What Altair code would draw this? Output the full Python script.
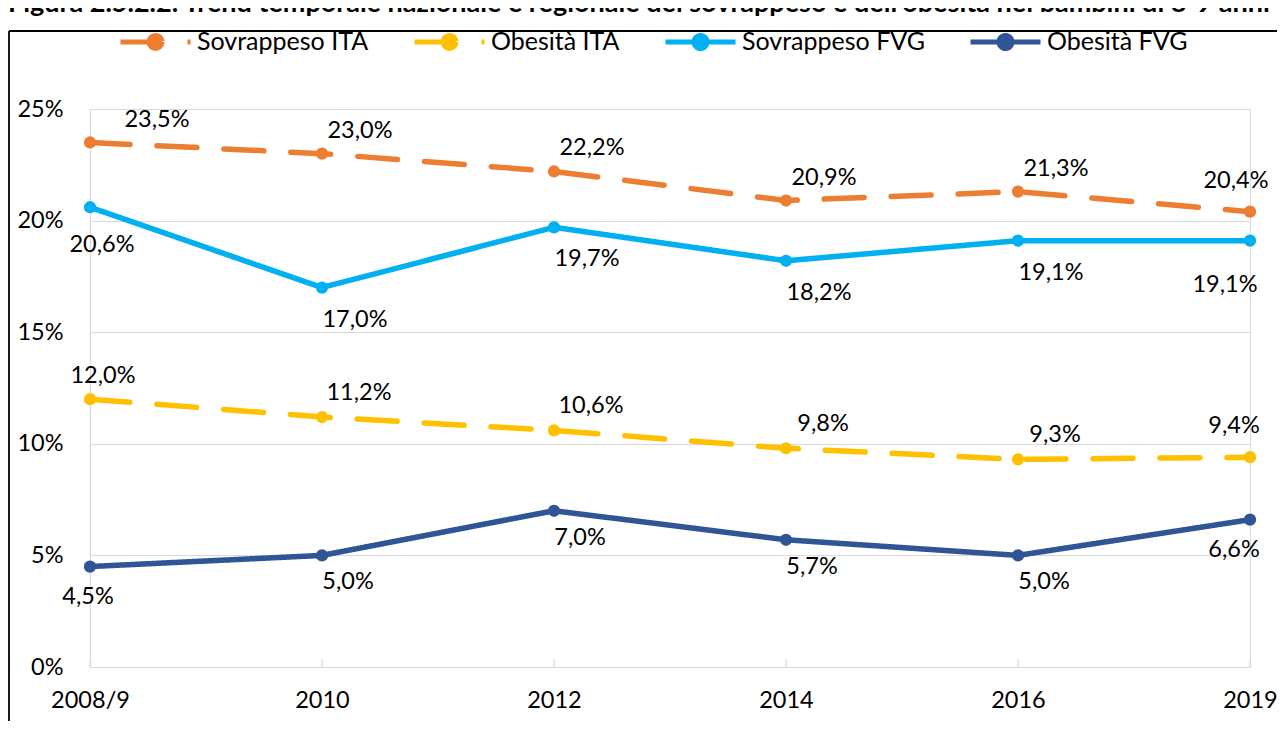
import altair as alt
import pandas as pd

years = ["2008/9", "2010", "2012", "2014", "2016", "2019"]
sovrappeso_ita = [23.5, 23.0, 22.2, 20.9, 21.3, 20.4]
obesita_ita = [12.0, 11.2, 10.6, 9.8, 9.3, 9.4]
sovrappeso_fvg = [20.6, 17.0, 19.7, 18.2, 19.1, 19.1]
obesita_fvg = [4.5, 5.0, 7.0, 5.7, 5.0, 6.6]
series_names = ["Sovrappeso ITA", "Obesità ITA", "Sovrappeso FVG", "Obesità FVG"]
y_ticks = [0, 5, 10, 15, 20, 25]
title_text = ("Figura 2.5.2.2. Trend temporale nazionale e regionale del sovrappeso "
              "e dell'obesità nei bambini di 8-9 anni")

colors = ["#ED7D31", "#FFC000", "#00B0F0", "#2F5597"]
dashes = [[40, 27], [40, 27], [1, 0], [1, 0]]
FONT = "Lato"
FS = 23.5

rows = []
for name, vals in zip(series_names, [sovrappeso_ita, obesita_ita, sovrappeso_fvg, obesita_fvg]):
    for i, (yr, v) in enumerate(zip(years, vals)):
        rows.append({"year": yr, "serie": name, "value": v, "idx": i,
                     "label": f"{v:.1f}%".replace(".", ",")})
df = pd.DataFrame(rows)

W, H = 1160, 558

x_enc = alt.X("year:N", sort=years, title=None,
              scale=alt.Scale(type="point", padding=0),
              axis=alt.Axis(labelAngle=0, labelAlign="center", labelBaseline="top",
                            labelFlush=False, ticks=False, labelPadding=21,
                            labelFontSize=FS, labelFont=FONT, labelColor="#000000",
                            domainColor="#D9D9D9", domainWidth=1.2, grid=False,
                            labelOverlap=False))
y_enc = alt.Y("value:Q", title=None, scale=alt.Scale(domain=[0, 25], nice=False),
              axis=alt.Axis(values=y_ticks, labelExpr="datum.value + '%'", ticks=False,
                            labelPadding=27, labelFontSize=FS, labelFont=FONT,
                            labelColor="#000000", domainColor="#D9D9D9", domainWidth=1.2,
                            gridColor="#D9D9D9", gridWidth=1.2))

sym = "M-1,0H1M0.186,0A0.186,0.186,0,1,1,-0.186,0A0.186,0.186,0,1,1,0.186,0Z"
legend = alt.Legend(orient="none", legendX=28, legendY=-105, direction="horizontal",
                    columns=4, title=None, symbolType=sym, symbolSize=4900,
                    symbolStrokeWidth=5, labelFont=FONT, labelFontSize=25, labelLimit=0,
                    labelColor="#000000", labelOffset=4, columnPadding=35, padding=0)
color_scale = alt.Scale(domain=series_names, range=colors)

base = alt.Chart(df)
lines = base.mark_line(strokeWidth=5.5, strokeCap="round").encode(
    x=x_enc, y=y_enc,
    color=alt.Color("serie:N", scale=color_scale, legend=legend, sort=series_names),
    strokeDash=alt.StrokeDash("serie:N", scale=alt.Scale(domain=series_names, range=dashes),
                              legend=None),
)
points = base.mark_circle(size=150, opacity=1).encode(
    x="year:N", y="value:Q",
    color=alt.Color("serie:N", scale=color_scale, legend=legend, sort=series_names),
)

offsets = {
    "Sovrappeso ITA": [(67, -22), (38, -23), (-14, -31)],
    "Obesità ITA": [(13, -23), (37, -24), (-16, -31)],
    "Sovrappeso FVG": [(12, 38), (33, 32), (-25, 44)],
    "Obesità FVG": [(-2, 30), (26, 27), (-16, 30)],
}
labels = []
for name in series_names:
    for g, cond in enumerate(["datum.idx == 0", "datum.idx > 0 && datum.idx < 5", "datum.idx == 5"]):
        dx, dy = offsets[name][g]
        labels.append(
            base.transform_filter(f"datum.serie == '{name}' && ({cond})")
            .mark_text(dx=dx, dy=dy, fontSize=FS, font=FONT, color="#000000",
                       align="center", baseline="middle")
            .encode(x="year:N", y="value:Q", text="label:N")
        )

tick_df = pd.DataFrame({"year": years})
xticks = alt.Chart(tick_df).mark_rule(color="#D9D9D9", strokeWidth=1.2).encode(
    x=alt.X("year:N", sort=years), y=alt.value(H - 8), y2=alt.value(H))

one = pd.DataFrame({"k": [0]})
border_top = alt.Chart(one).mark_rule(color="#000000", strokeWidth=1.8).encode(
    x=alt.value(-81), x2=alt.value(W + 60), y=alt.value(-78))
border_left = alt.Chart(one).mark_rule(color="#000000", strokeWidth=1.8).encode(
    x=alt.value(-81), y=alt.value(-78), y2=alt.value(H + 80))
title = alt.Chart(one).mark_text(align="left", baseline="alphabetic", fontSize=27,
                                 font=FONT, fontWeight="bold", color="#000000").encode(
    x=alt.value(-82), y=alt.value(-97), text=alt.value(title_text))

chart = alt.layer(xticks, lines, points, *labels, border_top, border_left, title).properties(
    width=W, height=H,
    autosize=alt.AutoSizeParams(type="none"),
    padding={"left": 82, "top": 101, "right": 27, "bottom": 54},
).configure_view(strokeWidth=0).configure(background="white")

chart.save("out.html", embed_options={"renderer": "svg", "actions": False})
